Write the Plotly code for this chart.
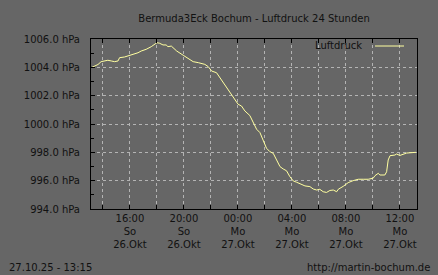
import plotly.graph_objects as go

times = [
    "2025-10-26 13:11", "2025-10-26 13:23", "2025-10-26 13:38", "2025-10-26 13:52",
    "2025-10-26 14:08", "2025-10-26 14:22", "2025-10-26 14:37", "2025-10-26 14:52",
    "2025-10-26 15:07", "2025-10-26 15:14", "2025-10-26 15:36", "2025-10-26 15:51",
    "2025-10-26 16:06", "2025-10-26 16:36", "2025-10-26 16:50", "2025-10-26 17:12",
    "2025-10-26 17:35", "2025-10-26 17:50", "2025-10-26 18:00", "2025-10-26 18:12",
    "2025-10-26 18:27", "2025-10-26 18:41", "2025-10-26 18:49", "2025-10-26 19:04",
    "2025-10-26 19:28", "2025-10-26 19:57", "2025-10-26 20:27", "2025-10-26 20:41",
    "2025-10-26 21:04", "2025-10-26 21:19", "2025-10-26 21:33", "2025-10-26 21:48",
    "2025-10-26 22:03", "2025-10-26 22:25", "2025-10-26 22:40", "2025-10-26 23:02",
    "2025-10-26 23:24", "2025-10-26 23:47", "2025-10-27 00:01", "2025-10-27 00:16",
    "2025-10-27 00:31", "2025-10-27 00:53", "2025-10-27 01:08", "2025-10-27 01:23",
    "2025-10-27 01:38", "2025-10-27 01:52", "2025-10-27 02:07", "2025-10-27 02:22",
    "2025-10-27 02:37", "2025-10-27 02:52", "2025-10-27 03:07", "2025-10-27 03:21",
    "2025-10-27 03:36", "2025-10-27 03:51", "2025-10-27 04:06", "2025-10-27 04:21",
    "2025-10-27 04:36", "2025-10-27 04:58", "2025-10-27 05:20", "2025-10-27 05:35",
    "2025-10-27 05:50", "2025-10-27 06:04", "2025-10-27 06:19", "2025-10-27 06:34",
    "2025-10-27 06:49", "2025-10-27 07:04", "2025-10-27 07:19", "2025-10-27 07:26",
    "2025-10-27 07:48", "2025-10-27 08:10", "2025-10-27 08:32", "2025-10-27 08:55",
    "2025-10-27 09:17", "2025-10-27 09:39", "2025-10-27 10:01", "2025-10-27 10:09",
    "2025-10-27 10:24", "2025-10-27 10:31", "2025-10-27 10:53", "2025-10-27 11:01",
    "2025-10-27 11:08", "2025-10-27 11:16", "2025-10-27 11:38", "2025-10-27 11:45",
    "2025-10-27 12:00", "2025-10-27 12:15", "2025-10-27 12:30", "2025-10-27 13:11",
]
pressure = [
    1004.0, 1004.1, 1004.2, 1004.4, 1004.45, 1004.5, 1004.45, 1004.4,
    1004.45, 1004.68, 1004.73, 1004.8, 1004.87, 1005.03, 1005.15, 1005.27,
    1005.46, 1005.63, 1005.74, 1005.7, 1005.58, 1005.58, 1005.46, 1005.5,
    1005.15, 1004.85, 1004.57, 1004.4, 1004.33, 1004.29, 1004.21, 1004.05,
    1003.74, 1003.62, 1003.27, 1002.8, 1002.33, 1001.74, 1001.39, 1001.27,
    1000.92, 1000.6, 1000.05, 999.63, 999.39, 998.87, 998.29, 998.05,
    997.93, 997.46, 996.99, 996.83, 996.7, 996.28, 995.98, 995.89,
    995.77, 995.63, 995.58, 995.41, 995.34, 995.39, 995.22, 995.17,
    995.31, 995.34, 995.22, 995.39, 995.6, 995.86, 996.0, 996.1,
    996.1, 996.1, 996.17, 996.35, 996.52, 996.4, 996.4, 996.63,
    997.46, 997.76, 997.81, 997.88, 997.78, 997.88, 997.95, 998.0,
]

x_tick_vals = ["2025-10-26 16:00", "2025-10-26 20:00", "2025-10-27 00:00",
               "2025-10-27 04:00", "2025-10-27 08:00", "2025-10-27 12:00"]
x_tick_text = ["16:00<br>So<br>26.Okt", "20:00<br>So<br>26.Okt", "00:00<br>Mo<br>27.Okt",
               "04:00<br>Mo<br>27.Okt", "08:00<br>Mo<br>27.Okt", "12:00<br>Mo<br>27.Okt"]
x_minor_vals = ["2025-10-26 14:00", "2025-10-26 18:00", "2025-10-26 22:00",
                "2025-10-27 02:00", "2025-10-27 06:00", "2025-10-27 10:00"]
y_tick_vals = [994, 996, 998, 1000, 1002, 1004, 1006]
y_tick_text = ["994.0 hPa", "996.0 hPa", "998.0 hPa", "1000.0 hPa",
               "1002.0 hPa", "1004.0 hPa", "1006.0 hPa"]
y_minor_vals = [995, 997, 999, 1001, 1003, 1005]

title_text = "Bermuda3Eck Bochum - Luftdruck 24 Stunden"
series_name = "Luftdruck"
footer_left = "27.10.25 - 13:15"
footer_right = "http://martin-bochum.de"

BG = "#666666"
LINE = "#ffffa0"
GRID = "#b4b4b4"
TXT = "#111111"
FONT = "DejaVu Sans"

fig = go.Figure()
fig.add_trace(go.Scatter(x=times, y=pressure, mode="lines", name=series_name,
                         line=dict(color=LINE, width=1), showlegend=False))

fig.update_layout(
    width=438, height=275,
    paper_bgcolor=BG, plot_bgcolor=BG,
    margin=dict(l=91, r=21, t=39, b=66),
    font=dict(family=FONT, size=10, color=TXT),
    title=dict(text=title_text, x=0.5, xref="paper", y=1 - 18 / 275,
               yanchor="middle", xanchor="center",
               font=dict(family=FONT, size=10, color=TXT)),
    xaxis=dict(
        type="date",
        range=["2025-10-26 13:07", "2025-10-27 13:16"],
        tickmode="array", tickvals=x_tick_vals, ticktext=x_tick_text,
        ticks="inside", ticklen=4, tickcolor="black",
        showgrid=True, gridcolor=GRID, griddash="3px,3px", gridwidth=1,
        minor=dict(tickmode="array", tickvals=x_minor_vals, ticks="inside",
                   ticklen=4, tickcolor="black", showgrid=True,
                   gridcolor=GRID, griddash="3px,3px", gridwidth=1),
        showline=True, linecolor="black", linewidth=1, mirror="ticks",
        zeroline=False, tickfont=dict(family=FONT, size=10, color=TXT),
    ),
    yaxis=dict(
        range=[994, 1006],
        tickmode="array", tickvals=y_tick_vals, ticktext=y_tick_text,
        ticks="inside", ticklen=4, tickcolor="black",
        showgrid=True, gridcolor=GRID, griddash="3px,3px", gridwidth=1,
        minor=dict(tickmode="array", tickvals=y_minor_vals, ticks="inside",
                   ticklen=3, tickcolor="black", showgrid=False),
        showline=True, linecolor="black", linewidth=1, mirror=True,
        zeroline=False, ticklabelstandoff=8,
        tickfont=dict(family=FONT, size=10, color=TXT),
    ),
)

# legend (text left, sample line right, as in the reference)
fig.add_annotation(text=series_name, xref="paper", yref="paper",
                   x=(364 - 91) / 326, y=(209 - 46) / 170,
                   xanchor="right", yanchor="middle", showarrow=False,
                   font=dict(family=FONT, size=10, color=TXT))
fig.add_shape(type="line", xref="paper", yref="paper",
              x0=(375 - 91) / 326, x1=(404 - 91) / 326,
              y0=(209 - 46) / 170, y1=(209 - 46) / 170,
              line=dict(color=LINE, width=1))

fig.add_annotation(text=footer_left, xref="paper", yref="paper",
                   x=(7 - 91) / 326, y=(209 - 267) / 170,
                   xanchor="left", yanchor="middle", showarrow=False,
                   font=dict(family=FONT, size=10, color=TXT))
fig.add_annotation(text=footer_right, xref="paper", yref="paper",
                   x=(432 - 91) / 326, y=(209 - 267) / 170,
                   xanchor="right", yanchor="middle", showarrow=False,
                   font=dict(family=FONT, size=10, color=TXT))

fig.write_html("out.html")
